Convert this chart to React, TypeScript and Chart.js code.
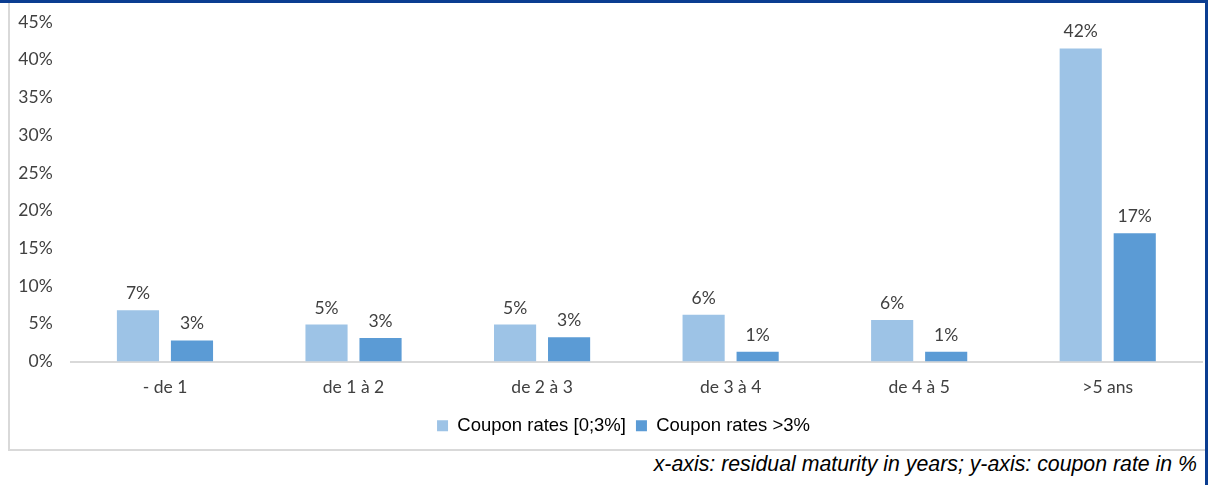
import React, { useEffect, useRef } from "react";
import { Chart, registerables } from "chart.js";

Chart.register(...registerables);

const categories = ["- de 1", "de 1 à 2", "de 2 à 3", "de 3 à 4", "de 4 à 5", ">5 ans"];
const lowCouponShare = [6.8, 4.9, 4.9, 6.2, 5.5, 41.5];
const highCouponShare = [2.8, 3.1, 3.2, 1.3, 1.3, 17.0];
const seriesLabels = ["Coupon rates [0;3%]", "Coupon rates >3%"];
const seriesColors = ["#9dc3e6", "#5b9bd5"];
const yMax = 45;
const yStep = 5;
const footnote = "x-axis: residual maturity in years; y-axis: coupon rate in %";

const numberFont = "Lato, 'Open Sans', sans-serif";

const valueLabels = {
  id: "valueLabels",
  afterDatasetsDraw(chart: any) {
    const ctx = chart.ctx;
    ctx.save();
    ctx.font = `17.5px ${numberFont}`;
    ctx.fillStyle = "#404040";
    ctx.textAlign = "center";
    ctx.textBaseline = "alphabetic";
    chart.data.datasets.forEach((ds: any, i: number) => {
      const meta = chart.getDatasetMeta(i);
      meta.data.forEach((bar: any, j: number) => {
        const v = ds.data[j];
        ctx.fillText(Math.round(v) + "%", bar.x, bar.y - 11);
      });
    });
    ctx.restore();
  },
};

const legendShift = {
  id: "legendShift",
  afterLayout(chart: any) {
    const lg = chart.legend;
    if (lg) {
      lg.left += 17.5;
      lg.right += 17.5;
    }
  },
};

export default function App() {
  const ref = useRef<HTMLCanvasElement | null>(null);

  useEffect(() => {
    if (!ref.current) return;
    const chart = new Chart(ref.current, {
      type: "bar",
      data: {
        labels: categories,
        datasets: [
          {
            label: seriesLabels[0],
            data: lowCouponShare,
            backgroundColor: seriesColors[0],
            borderWidth: 0,
            categoryPercentage: 0.573,
            barPercentage: 0.78,
          },
          {
            label: seriesLabels[1],
            data: highCouponShare,
            backgroundColor: seriesColors[1],
            borderWidth: 0,
            categoryPercentage: 0.573,
            barPercentage: 0.78,
          },
        ],
      },
      options: {
        animation: false,
        responsive: false,
        maintainAspectRatio: false,
        layout: { padding: { top: 19, right: 3, bottom: 4, left: 0 } },
        plugins: {
          legend: {
            position: "bottom",
            labels: {
              boxWidth: 11,
              boxHeight: 11,
              padding: 10,
              color: "#000000",
              font: { family: "'Liberation Sans', Arial, sans-serif", size: 18.5 },
            },
          },
          tooltip: { enabled: false },
        },
        scales: {
          x: {
            grid: { display: false, drawTicks: false },
            border: { display: true, color: "#d9d9d9", width: 2 },
            ticks: {
              color: "#404040",
              padding: 15,
              font: { family: numberFont, size: 17.5 },
            },
            afterFit(scale: any) {
              scale.height = 45;
            },
          },
          y: {
            min: 0,
            max: yMax,
            grid: { display: false, drawTicks: false },
            border: { display: false },
            ticks: {
              stepSize: yStep,
              padding: 18,
              color: "#404040",
              font: { family: numberFont, size: 17.5 },
              callback: (v: any) => v + "%",
            },
            afterFit(scale: any) {
              scale.width = 60.7;
              scale.paddingTop = 0;
              scale.paddingBottom = 0;
            },
          },
        },
      },
      plugins: [valueLabels, legendShift],
    });
    return () => chart.destroy();
  }, []);

  const blue = "#0b3d91";
  return (
    <div style={{ position: "absolute", left: 0, top: 0, width: 1211, height: 485, background: "#fff", overflow: "hidden" }}>
      <div style={{ position: "absolute", left: 0, top: 0, width: 1208, height: 3, background: blue }} />
      <div style={{ position: "absolute", left: 1205, top: 0, width: 3, height: 485, background: blue }} />
      <div
        style={{
          position: "absolute",
          left: 8,
          top: 3,
          width: 1197,
          height: 448,
          boxSizing: "border-box",
          borderLeft: "2px solid #d9d9d9",
          borderBottom: "2px solid #d9d9d9",
        }}
      />
      <canvas ref={ref} width={1195} height={446} style={{ position: "absolute", left: 10, top: 3, width: 1195, height: 446 }} />
      <div
        style={{
          position: "absolute",
          right: 14,
          top: 452,
          fontFamily: "'Liberation Sans', Arial, sans-serif",
          fontStyle: "italic",
          fontSize: 21.3,
          lineHeight: "24px",
          color: "#000",
          whiteSpace: "nowrap",
        }}
      >
        {footnote}
      </div>
    </div>
  );
}
